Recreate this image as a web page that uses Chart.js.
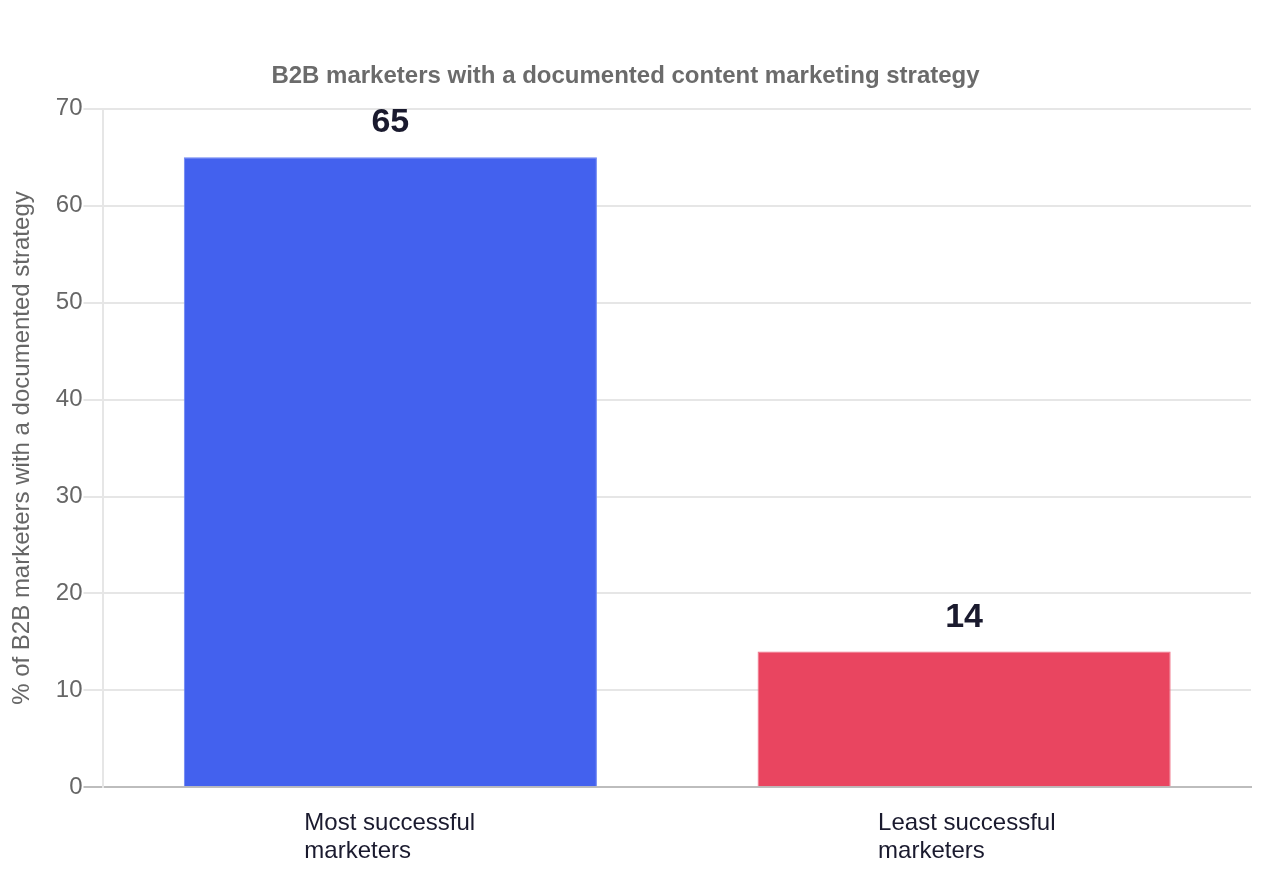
<!DOCTYPE html>
<html>
  <head>
    <title>B2B marketers with a documented content marketing strategy</title>
    <script src="https://cdn.jsdelivr.net/npm/chart.js"></script>
    <style>
      html, body { margin: 0; padding: 0; background: #fff; }
      #wrap { width: 1280px; height: 880px; }
    </style>
  </head>
  <body>
    <div id="wrap"><canvas id="myChart"></canvas></div>

<script>
// dati
const categorie = [["Most successful", "marketers"], ["Least successful", "marketers"]];
const valori = [65, 14];
const colori = ["#4361ee", "#e94560"];
const bordi = ["#6b84f2", "#ef6f86"];
const titolo = "B2B marketers with a documented content marketing strategy";
const titoloAsseY = "% of B2B marketers with a documented strategy";

const FONT = "'Liberation Sans', Arial, sans-serif";

// etichette sopra le barre
const etichetteValori = {
  id: "etichetteValori",
  afterDatasetsDraw(chart) {
    const ctx = chart.ctx;
    const meta = chart.getDatasetMeta(0);
    ctx.save();
    ctx.font = "bold 34px " + FONT;
    ctx.fillStyle = "#1a1a2e";
    ctx.textAlign = "center";
    ctx.textBaseline = "alphabetic";
    meta.data.forEach((bar, i) => {
      ctx.fillText(String(valori[i]), bar.x, bar.y - 25);
    });
    ctx.restore();
  }
};

const ctx = document.getElementById("myChart").getContext("2d");
const chart = new Chart(ctx, {
  type: "bar",
  data: {
    labels: categorie,
    datasets: [
      {
        data: valori,
        backgroundColor: colori,
        borderColor: bordi,
        borderWidth: 1,
      },
    ],
  },
  plugins: [etichetteValori],
  options: {
    responsive: true,
    maintainAspectRatio: false,
    animation: false,
    layout: { padding: { left: 0, right: 29, top: 0, bottom: 1 } },
    plugins: {
      legend: { display: false },
      tooltip: { enabled: false },
      title: {
        display: true,
        text: titolo,
        color: "#6b6b6b",
        font: { family: FONT, size: 24, weight: "bold" },
        padding: { top: 62, bottom: 18 },
      },
    },
    scales: {
      x: {
        grid: { display: false },
        border: { display: true, color: "#bdbdbd", width: 2 },
        ticks: {
          color: "#1a1a2e",
          font: { family: FONT, size: 24, lineHeight: 1.16 },
          align: "start",
          labelOffset: -86,
          maxRotation: 0,
          autoSkip: false,
          padding: 14,
        },
      },
      y: {
        min: 0,
        max: 70,
        ticks: {
          stepSize: 10,
          color: "#666",
          font: { family: FONT, size: 24 },
          padding: 1,
        },
        grid: {
          color: (c) => (c.tick && c.tick.value === 0 ? "#bdbdbd" : "#e6e6e6"),
          lineWidth: 2,
          tickLength: 20,
        },
        border: { display: true, color: "#e6e6e6", width: 2 },
        title: {
          display: true,
          text: titoloAsseY,
          color: "#666",
          font: { family: FONT, size: 24 },
          padding: { top: 8, bottom: 18 },
        },
      },
    },
  },
});
</script>
  </body>
</html>
